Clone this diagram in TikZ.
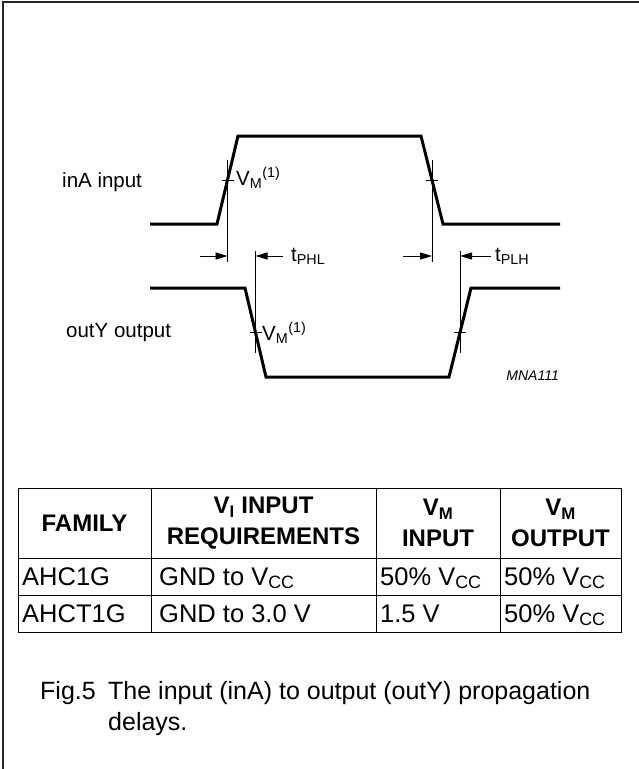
\documentclass[tikz,border=0pt]{standalone}
\usepackage{fontspec}
\setmainfont{Liberation Sans}
\usetikzlibrary{arrows.meta}

\tikzset{
  wave/.style={line width=3pt, line join=miter},
  refline/.style={line width=0.9pt},
  dimarrow/.style={-{Triangle[length=12pt,width=7pt]}, line width=0.9pt},
  lbl/.style={inner sep=0pt, font=\fontsize{20.5}{24}\selectfont},
  cell/.style={inner sep=0pt, anchor=base west, font=\fontsize{25.5}{30}\selectfont},
  head/.style={inner sep=0pt, align=center, font=\fontsize{24}{31}\selectfont\bfseries},
  tabline/.style={line width=1pt},
}

\begin{document}
\begin{tikzpicture}[x=1pt, y=-1pt]

	\useasboundingbox (0,0) rectangle (639,769);

	%Frame
	\draw[line width=2pt, draw=black!85] (3,769) -- (3,2) -- (639,2);

	%inA input
	\node (inLabel) at (62,182) [lbl, anchor=west]{inA input};
	\draw[wave] (150,224) -- (217,224) -- (238,136) -- (421,136) -- (443,224) -- (560,224);
	\coordinate (inRise) at (227.5,180);
	\coordinate (inFall) at (432,180);
	\draw[refline] (inRise |- 0,160) -- (inRise |- 0,262);
	\draw[refline] (inFall |- 0,160) -- (inFall |- 0,262);
	\draw[refline] ([xshift=-6pt]inRise) -- ([xshift=6pt]inRise);
	\draw[refline] ([xshift=-6pt]inFall) -- ([xshift=6pt]inFall);
	\node (inVM) at (236,185) [lbl, anchor=base west]{V\textsubscript{M}\textsuperscript{(1)}};

	%outY output
	\node (outLabel) at (66,333) [lbl, anchor=west]{outY output};
	\draw[wave] (150,288) -- (245,288) -- (266,377) -- (449,377) -- (471,288) -- (560,288);
	\coordinate (outFall) at (255.5,332.5);
	\coordinate (outRise) at (460,332.5);
	\draw[refline] (outFall |- 0,251) -- (outFall |- 0,353);
	\draw[refline] (outRise |- 0,251) -- (outRise |- 0,353);
	\draw[refline] ([xshift=-6pt]outFall) -- ([xshift=6pt]outFall);
	\draw[refline] ([xshift=-6pt]outRise) -- ([xshift=6pt]outRise);
	\node (outVM) at (262,340) [lbl, anchor=base west]{V\textsubscript{M}\textsuperscript{(1)}};

	%Propagation delays
	\coordinate (phlStart) at (200,256);
	\coordinate (phlEnd) at (283,256);
	\coordinate (plhStart) at (403,256);
	\coordinate (plhEnd) at (491,256);
	\draw[dimarrow] (phlStart) -- (inRise |- phlStart);
	\draw[dimarrow] (phlEnd) -- (outFall |- phlEnd);
	\draw[dimarrow] (plhStart) -- (inFall |- plhStart);
	\draw[dimarrow] (plhEnd) -- (outRise |- plhEnd);
	\node (tPHL) at (291,261) [lbl, anchor=base west]{t\textsubscript{PHL}};
	\node (tPLH) at (495,261) [lbl, anchor=base west]{t\textsubscript{PLH}};

	\node (code) at (559,380) [inner sep=0pt, anchor=base east, font=\fontsize{14}{16}\selectfont\itshape]{MNA111};

	%Table
	\draw[tabline] (18,488) rectangle (621,632);
	\draw[tabline] (18,558) -- (621,558);
	\draw[tabline] (18,595) -- (621,595);
	\foreach \colx in {151,376,500}
		\draw[tabline] (\colx,488) -- (\colx,632);

	\node (hFamily) at (84.5,523) [head]{FAMILY};
	\node (hReq) at (263.5,523) [head]{V\textsubscript{I} INPUT\\REQUIREMENTS};
	\node (hIn) at (438,523) [head]{V\textsubscript{M}\\INPUT};
	\node (hOut) at (560.5,523) [head]{V\textsubscript{M}\\OUTPUT};

	\node (fam1) at (22,585) [cell]{AHC1G};
	\node (req1) at (159,585) [cell]{GND to V\textsubscript{CC}};
	\node (vin1) at (380,585) [cell]{50\% V\textsubscript{CC}};
	\node (vout1) at (504,585) [cell]{50\% V\textsubscript{CC}};

	\node (fam2) at (22,622) [cell]{AHCT1G};
	\node (req2) at (159,622) [cell]{GND to 3.0 V};
	\node (vin2) at (380,622) [cell]{1.5 V};
	\node (vout2) at (504,622) [cell]{50\% V\textsubscript{CC}};

	%Caption
	\node (figNo) at (40,699) [inner sep=0pt, anchor=base west, font=\fontsize{25}{31}\selectfont]{Fig.5};
	\node (figText) at (108,699) [inner sep=0pt, anchor=base west, font=\fontsize{25}{31}\selectfont]{The input (inA) to output (outY) propagation};
	\node (figText2) at (108,730) [inner sep=0pt, anchor=base west, font=\fontsize{25}{31}\selectfont]{delays.};

\end{tikzpicture}
\end{document}
